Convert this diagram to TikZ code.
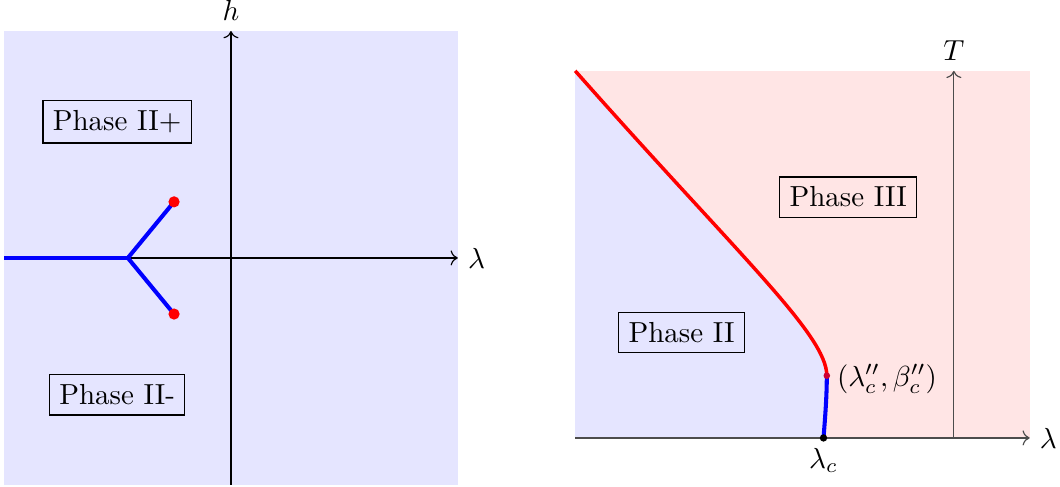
\documentclass[tikz,border=0pt]{standalone}
\usepackage{amsmath}
\usepackage{amssymb}
\usetikzlibrary{calc, positioning}
\usetikzlibrary{arrows.meta}

\tikzset{
  phasebox/.style={draw, inner sep=3.4pt},
  axisline/.style={->},
  blueline/.style={blue, line width=1.4pt},
  redline/.style={red, line width=1.2pt},
}

\begin{document}
\begin{tikzpicture}
\useasboundingbox (-2.80,-2.775) rectangle (10.05,3.127);

% left: lambda-h plane
\fill[blue!10] (-2.75,-2.75) rectangle (2.75,2.75);

\coordinate (O) at (0, 0);
\coordinate (L) at (-2.75, 0);
\coordinate (J) at (-1.25, 0);
\coordinate (Up) at (-0.69, 0.68);
\coordinate (Dn) at (-0.69, -0.68);

\draw[axisline] (L) -- (2.75, 0) node[right] (lam1) {$\lambda$};
\draw[axisline] (0, -2.75) -- (0, 2.75) node[above] (h) {$h$};

\draw[blueline] (L) -- (J);
\draw[blueline] (J) -- (Up);
\draw[blueline] (J) -- (Dn);
\fill[red] (Up) circle (0.068);
\fill[red] (Dn) circle (0.068);

\node[phasebox] (IIp) at (-1.38, 1.65) {Phase II+};
\node[phasebox] (IIm) at (-1.38, -1.66) {Phase II-};

% right: lambda-T plane
\begin{scope}[shift={(8.763,-2.182)}]
\coordinate (A) at (-4.59, 4.45);
\coordinate (C) at (-1.54, 0.755);
\coordinate (Lc) at (-1.58, 0);

\fill[red!10] (-4.59,0) rectangle (0.92,4.45);
\fill[blue!10] (A) .. controls (-2.6,2.2) and (-1.54,1.25) .. (C)
  .. controls (-1.54,0.5) and (-1.56,0.25) .. (Lc) -- (-4.59,0) -- cycle;

\draw[axisline, black!70] (-4.59,0) -- (0.92,0) node[right, black] (lam2) {$\lambda$};
\draw[axisline, black!70] (0,0) -- (0,4.45) node[above, black] (T) {$T$};

\draw[redline] (A) .. controls (-2.6,2.2) and (-1.54,1.25) .. (C);
\draw[blueline] (C) .. controls (-1.54,0.5) and (-1.56,0.25) .. (Lc);

\fill[red!80!blue] (C) circle (0.04);
\fill[black] (Lc) circle (0.045);

\node[right] (Cl) at ($(C)+(0,-0.04)$) {$(\lambda_c'', \beta_c'')$};
\node[below] (Lcl) at (Lc) {$\lambda_c$};

\node[phasebox] (III) at (-1.28, 2.92) {Phase III};
\node[phasebox] (II) at (-3.30, 1.28) {Phase II};
\end{scope}

\end{tikzpicture}
\end{document}
